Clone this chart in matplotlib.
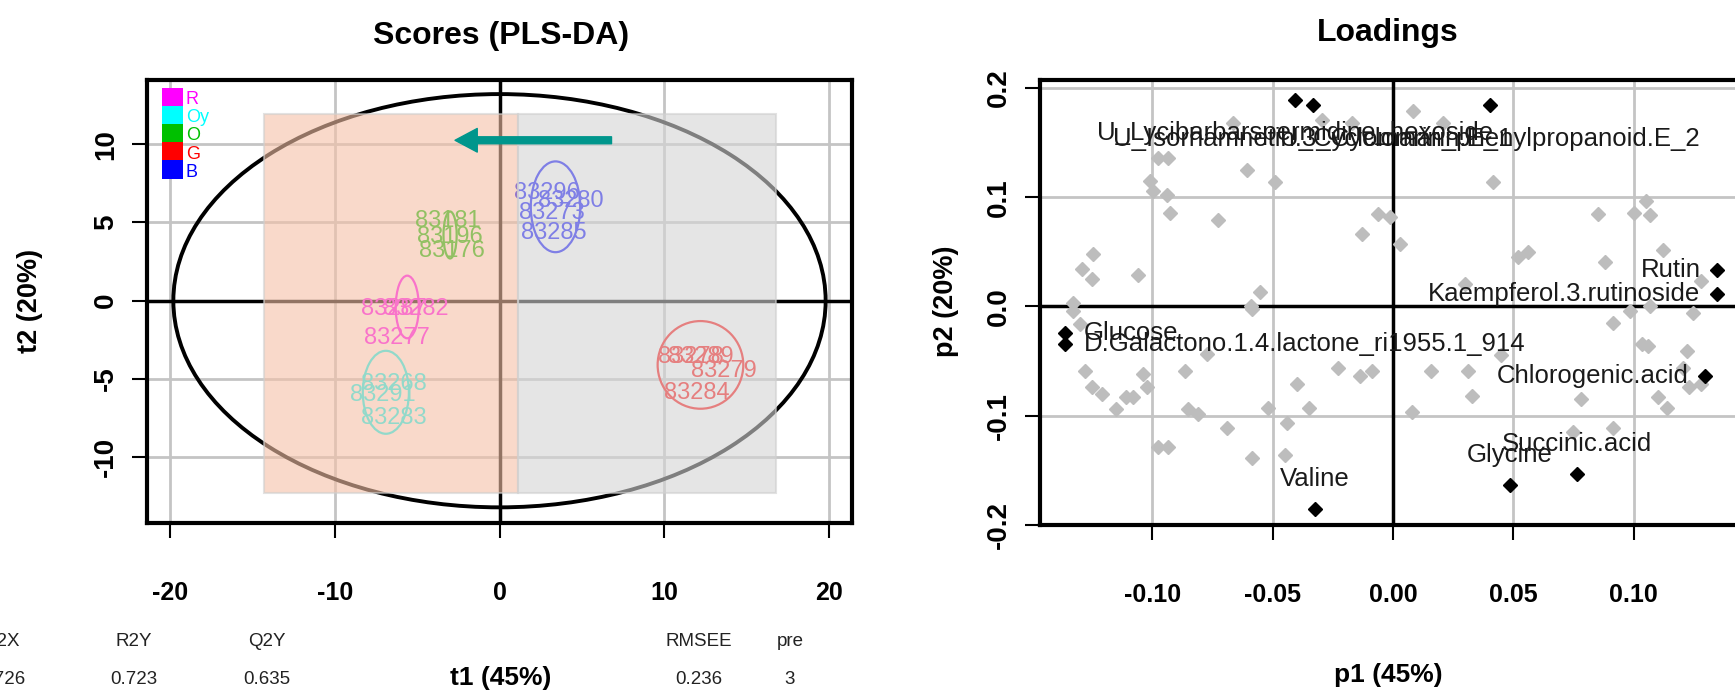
import matplotlib
matplotlib.use("Agg")
import matplotlib.pyplot as plt
from matplotlib.patches import Ellipse, Rectangle

# ---- scores (PLS-DA) ----
groups = ["R", "Oy", "O", "G", "B"]
group_colors = ["#FF00FF", "#00FFFF", "#00C000", "#FF0000", "#0000FF"]

sample_id = ["83287", "83282", "83277",
             "83268", "83291", "83283",
             "83181", "83196", "83176",
             "83296", "83280", "83273", "83285",
             "83278", "83289", "83279", "83284"]
t1 = [-6.4, -5.1, -6.2,
      -6.4, -7.1, -6.4,
      -3.15, -3.0, -2.9,
      2.85, 4.3, 3.2, 3.3,
      11.6, 12.2, 13.6, 11.95]
t2 = [-0.5, -0.5, -2.4,
      -5.3, -6.0, -7.5,
      5.1, 4.1, 3.2,
      6.9, 6.4, 5.6, 4.3,
      -3.6, -3.6, -4.5, -5.9]
sample_group = ["R", "R", "R",
                "Oy", "Oy", "Oy",
                "O", "O", "O",
                "B", "B", "B", "B",
                "G", "G", "G", "G"]

# group ellipses (centre, half-widths), same order as groups
ell_t1 = [-5.6, -6.9, -3.0, 12.2, 3.4]
ell_t2 = [-0.4, -5.85, 4.2, -4.1, 6.0]
ell_a = [0.7, 1.4, 0.4, 2.6, 1.5]
ell_b = [2.0, 2.65, 1.5, 2.8, 2.9]

# Hotelling ellipse
hot_a, hot_b = 19.8, 13.2

score_xticks = [-20, -10, 0, 10, 20]
score_yticks = [-10, -5, 0, 5, 10]

stat_names = ["R2X", "R2Y", "Q2Y", "RMSEE", "pre"]
stat_values = ["0.726", "0.723", "0.635", "0.236", "3"]

# highlighted regions on the score plot: (t1 from, t1 to)
band_t1 = [(-14.3, 1.15), (1.15, 16.8)]
band_t2 = (-12.3, 11.9)
band_colors = ["#F5C1A7", "#D5D5D5"]
arrow_from = (6.8, 10.25)
arrow_to = (-2.7, 10.25)

# ---- loadings ----
load_names = ["U_Lycibarbarspermidine_hexoside",
              "U_Isorhamnetin.3_Cyclomarin.E_1",
              "U_Cyclomarin_phenylpropanoid.E_2",
              "Rutin", "Kaempferol.3.rutinoside", "Chlorogenic.acid",
              "Succinic.acid", "Glycine", "Valine",
              "Glucose", "D.Galactono.1.4.lactone_ri1955.1_914"]
load_p1 = [-0.0407, -0.0333, 0.0403, 0.1347, 0.1347, 0.1297,
           0.0765, 0.0486, -0.0324, -0.1363, -0.1363]
load_p2 = [0.189, 0.184, 0.184, 0.0336, 0.0118, -0.0636,
           -0.153, -0.163, -0.185, -0.0245, -0.0345]
load_pos = [1, 1, 1, 2, 2, 2, 3, 3, 3, 4, 4]  # like R's text(pos=)

grey_p1 = [-0.0665, -0.0977, -0.0935, -0.101, -0.0997, -0.094, -0.0927, -0.0727,
           -0.0607, -0.049, -0.0295, -0.1247, -0.129, -0.125, -0.106, -0.0553,
           -0.133, -0.059,
           0.0083, -0.017, 0.021, 0.0416, -0.0062, -0.0012, -0.013, 0.003,
           0.052, 0.056, 0.085, 0.1, 0.105, 0.107, 0.088, 0.112, 0.128, 0.030,
           -0.133, -0.130, -0.128, -0.125, -0.121, -0.111, -0.108, -0.104,
           -0.102, -0.115, -0.0977, -0.0935, -0.0865, -0.085, -0.081, -0.0773,
           -0.069, -0.0586, -0.0586, -0.052, -0.044, -0.045, -0.040, -0.035,
           -0.023,
           -0.0137, -0.0087, 0.0079, 0.016, 0.031, 0.033, 0.045, 0.078, 0.0915,
           0.0915, 0.1035, 0.106, 0.110, 0.114, 0.122, 0.1205, 0.1247, 0.123,
           0.128, 0.0985, 0.107, 0.075]
grey_p2 = [0.168, 0.136, 0.136, 0.115, 0.106, 0.102, 0.086, 0.079,
           0.125, 0.114, 0.171, 0.048, 0.034, 0.025, 0.029, 0.0136,
           0.003, 0.0,
           0.179, 0.168, 0.168, 0.114, 0.085, 0.082, 0.066, 0.057,
           0.045, 0.05, 0.085, 0.086, 0.097, 0.084, 0.041, 0.052, 0.023, 0.021,
           -0.0045, -0.016, -0.059, -0.074, -0.08, -0.083, -0.083, -0.062,
           -0.074, -0.094, -0.129, -0.129, -0.059, -0.094, -0.098, -0.0436,
           -0.111, -0.139, -0.002, -0.093, -0.107, -0.136, -0.071, -0.093,
           -0.056,
           -0.064, -0.059, -0.097, -0.059, -0.059, -0.082, -0.044, -0.085, -0.0155,
           -0.111, -0.034, -0.036, -0.083, -0.093, -0.041, -0.056, -0.006, -0.074,
           -0.071, -0.0045, 0.0, -0.115]

load_xticks = [-0.10, -0.05, 0.00, 0.05, 0.10]
load_yticks = [-0.2, -0.1, 0.0, 0.1, 0.2]

# ------------------------------------------------------------------
W, H = 1735, 696
plt.rcParams["axes.unicode_minus"] = False
NARROW = ["Liberation Sans Narrow", "Liberation Sans", "DejaVu Sans"]
WIDE = ["Liberation Sans", "DejaVu Sans"]
GRID = "#C4C4C4"


def fpos(x, y):
    return x / W, 1 - y / H


def style_axes(ax, xt, yt, xlabels, ylabels):
    ax.set_xticks(xt, labels=xlabels)
    ax.set_yticks(yt, labels=ylabels)
    ax.grid(True, color=GRID, lw=2, zorder=0)
    ax.set_axisbelow(True)
    ax.axhline(0, color="black", lw=2.5, zorder=1)
    ax.axvline(0, color="black", lw=2.5, zorder=1)
    for s in ax.spines.values():
        s.set_linewidth(3)
    ax.tick_params(axis="x", direction="out", length=11, width=1.5, pad=31,
                   labelsize=18)
    ax.tick_params(axis="y", direction="out", length=11, width=1.5, pad=9,
                   labelsize=20)
    for lab in ax.get_xticklabels() + ax.get_yticklabels():
        lab.set_family(NARROW)
        lab.set_fontweight("bold")
    for lab in ax.get_yticklabels():
        lab.set_rotation(90)
        lab.set_va("center")


fig = plt.figure(figsize=(W / 100, H / 100), dpi=100)

# ---------------- scores ----------------
axL = fig.add_axes([147 / W, 1 - 523 / H, (852 - 147) / W, (523 - 80) / H])
axL.set_xlim(-21.4, 21.4)
axL.set_ylim(-14.2, 14.1)
style_axes(axL, score_xticks, score_yticks,
           [str(v) for v in score_xticks], [str(v) for v in score_yticks])

axL.add_patch(Ellipse((0, 0), 2 * hot_a, 2 * hot_b, fill=False,
                      ec="black", lw=2.8, zorder=2))

for g, c, x, y, a, b in zip(groups, group_colors, ell_t1, ell_t2, ell_a, ell_b):
    axL.add_patch(Ellipse((x, y), 2 * a, 2 * b, fill=False, ec=c, lw=1.6, zorder=3))

for sid, x, y, g in zip(sample_id, t1, t2, sample_group):
    axL.text(x, y, sid, color=group_colors[groups.index(g)], fontsize=17,
             family=NARROW, ha="center", va="center", zorder=3)

# legend blocks in the corner
leg_x, leg_top, leg_w, leg_h = -20.5, 13.6, 1.3, 1.16
for i, (g, c) in enumerate(zip(groups, group_colors)):
    axL.add_patch(Rectangle((leg_x, leg_top - (i + 1) * leg_h), leg_w, leg_h,
                            fc=c, ec="none", zorder=3))
    axL.text(leg_x + leg_w + 0.15, leg_top - (i + 0.65) * leg_h, g, color=c,
             fontsize=13, family=NARROW, ha="left", va="center", zorder=3)

# overlay bands
for (x0, x1), c in zip(band_t1, band_colors):
    axL.add_patch(Rectangle((x0, band_t2[0]), x1 - x0, band_t2[1] - band_t2[0],
                            fc=c, ec="#CFCFCF", lw=1.5, alpha=0.6, zorder=4))

axL.annotate("", xy=arrow_to, xytext=arrow_from, zorder=5,
             arrowprops=dict(facecolor="#00968C", edgecolor="#00968C",
                             width=5, headwidth=17, headlength=16, shrink=0))

fig.text(*fpos(501, 36), "Scores (PLS-DA)", fontsize=23, fontweight="bold",
         family=WIDE, ha="center", va="center")
fig.text(*fpos(30, 301), "t2 (20%)", fontsize=19.5, fontweight="bold",
         family=NARROW, rotation=90, ha="center", va="center")
fig.text(*fpos(501, 678), "t1 (45%)", fontsize=19, fontweight="bold",
         family=NARROW, ha="center", va="center")

stat_x = [2, 134, 267, 699, 790]
for x, n, v in zip(stat_x, stat_names, stat_values):
    fig.text(*fpos(x, 641), n, fontsize=13.5, family=NARROW, color="#222222",
             ha="center", va="center")
    fig.text(*fpos(x, 679), v, fontsize=13.5, family=NARROW, color="#222222",
             ha="center", va="center")

# ---------------- loadings ----------------
axR = fig.add_axes([1040 / W, 1 - 525 / H, (1754 - 1040) / W, (525 - 80) / H])
axR.set_xlim(-0.1466, 0.15)
axR.set_ylim(-0.2, 0.2073)
style_axes(axR, load_xticks, load_yticks,
           ["%.2f" % v for v in load_xticks], ["%.1f" % v for v in load_yticks])

axR.plot(grey_p1, grey_p2, ls="none", marker="D", ms=7, color="#BDBDBD",
         mec="#BDBDBD", zorder=2)
axR.plot(load_p1, load_p2, ls="none", marker="D", ms=7.5, color="black", zorder=3)

offsets = {1: ((0, -24), "center", "center"),
           2: ((-12, 0), "right", "center"),
           3: ((0, 21), "center", "center"),
           4: ((14, 0), "left", "center")}
for name, x, y, p in zip(load_names, load_p1, load_p2, load_pos):
    off, ha, va = offsets[p]
    axR.annotate(name, (x, y), xytext=off, textcoords="offset points",
                 ha=ha, va=va, fontsize=18.5, family=WIDE, color="#1A1A1A",
                 zorder=4)

fig.text(*fpos(1388, 33), "Loadings", fontsize=23, fontweight="bold",
         family=WIDE, ha="center", va="center")
fig.text(*fpos(946, 301), "p2 (20%)", fontsize=19.5, fontweight="bold",
         family=NARROW, rotation=90, ha="center", va="center")
fig.text(*fpos(1388, 675), "p1 (45%)", fontsize=19, fontweight="bold",
         family=NARROW, ha="center", va="center")

fig.savefig("out.png", dpi=100)
